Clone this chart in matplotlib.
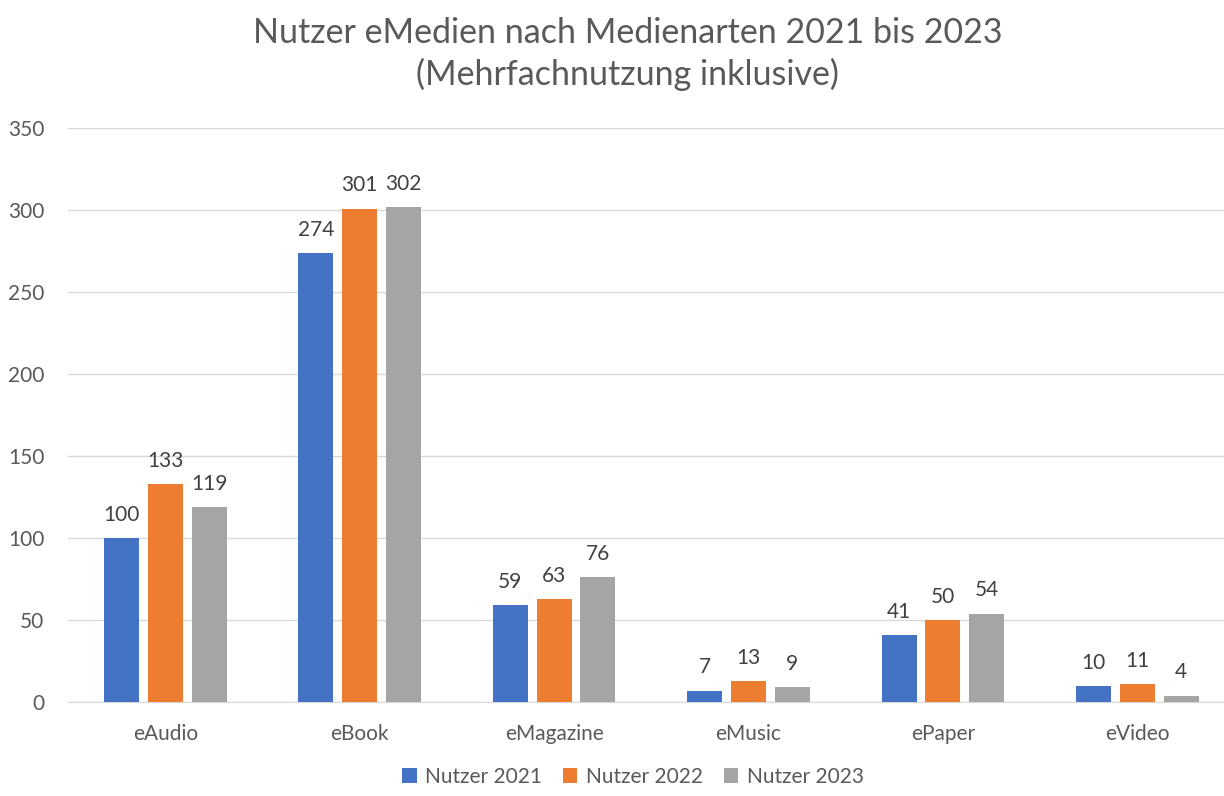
import numpy as np
import matplotlib
matplotlib.use("Agg")
import matplotlib.pyplot as plt

# --- data ---
categories = ["eAudio", "eBook", "eMagazine", "eMusic", "ePaper", "eVideo"]
series_names = ["Nutzer 2021", "Nutzer 2022", "Nutzer 2023"]
nutzer_2021 = [100, 274, 59, 7, 41, 10]
nutzer_2022 = [133, 301, 63, 13, 50, 11]
nutzer_2023 = [119, 302, 76, 9, 54, 4]
colors = ["#4472C4", "#ED7D31", "#A5A5A5"]

plt.rcParams["font.family"] = ["Lato", "DejaVu Sans"]

fig = plt.figure(figsize=(12.24, 7.96), dpi=100)
ax = fig.add_axes([0.0556, 0.118, 0.953, 0.721])

x = np.arange(len(categories))
width = 0.18
step = 0.225

for i, (vals, name, col) in enumerate(zip([nutzer_2021, nutzer_2022, nutzer_2023],
                                          series_names, colors)):
    bars = ax.bar(x + (i - 1) * step, vals, width, color=col, label=name, zorder=3)
    for b in bars:
        ax.text(b.get_x() + b.get_width() / 2, b.get_height() + 8,
                f"{int(b.get_height())}", ha="center", va="bottom",
                fontsize=15, color="#404040")

ax.set_xlim(-0.5, len(categories) - 0.5)
ax.set_ylim(0, 350)
ax.set_yticks(range(0, 351, 50))
ax.set_xticks(x)
ax.set_xticklabels(categories)
ax.tick_params(axis="both", length=0, labelsize=15, labelcolor="#595959")
ax.tick_params(axis="x", pad=16)
ax.tick_params(axis="y", pad=17)
ax.grid(axis="y", color="#D9D9D9", linewidth=1, zorder=0)
for s in ["top", "right", "left"]:
    ax.spines[s].set_visible(False)
ax.spines["bottom"].set_color("#D9D9D9")

fig.text(0.513, 0.932, "Nutzer eMedien nach Medienarten 2021 bis 2023\n(Mehrfachnutzung inklusive)",
         ha="center", va="center", fontsize=24.5, color="#595959", linespacing=1.32)

fig.legend(loc="lower center", bbox_to_anchor=(0.517, -0.012), ncol=3, frameon=False,
           fontsize=15, handlelength=0.7, handleheight=0.7, columnspacing=1.0,
           handletextpad=0.4, labelcolor="#595959")

fig.savefig("out.png", dpi=100)
